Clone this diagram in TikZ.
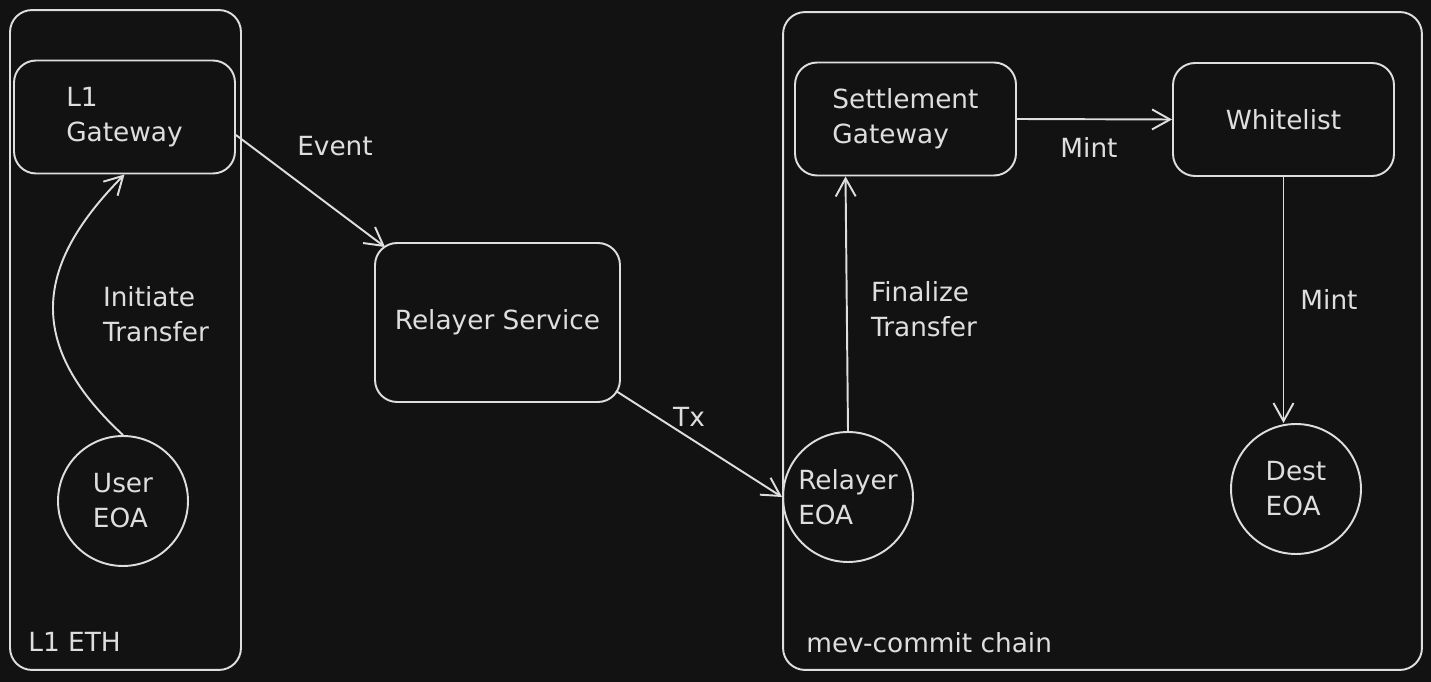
\documentclass[tikz,border=0pt]{standalone}
\usepackage{fontspec}
\setmainfont{DejaVu Sans}
\usetikzlibrary{arrows.meta,positioning}
\definecolor{canvas}{HTML}{121212}
\definecolor{ink}{HTML}{DEDEDE}

\begin{document}
\begin{tikzpicture}[x=0.02cm, y=-0.02cm]
\tikzset{
    box/.style={rectangle, draw=ink, rounded corners=0.44cm, line width=1.1pt, minimum width=4.42cm, minimum height=2.26cm, align=left, text=ink, font=\fontsize{15}{20}\selectfont},
    eoa/.style={circle, draw=ink, line width=1.1pt, minimum size=2.6cm, inner sep=0pt, align=left, text=ink, font=\fontsize{15}{20}\selectfont},
    frame/.style={rectangle, draw=ink, line width=1.1pt, rounded corners=0.44cm, inner sep=0pt},
    lbl/.style={text=ink, align=left, inner sep=0pt, font=\fontsize{15}{20}\selectfont},
    arr/.style={draw=ink, line width=1.1pt, -{Straight Barb[length=0.36cm, width=0.4cm]}}
}

  \fill[canvas] (0,0) rectangle (1431,682);

  % chains
  \node[frame, minimum width=4.62cm, minimum height=13.2cm] (l1eth) at (125.5,340) {};
  \node[frame, minimum width=12.78cm, minimum height=13.16cm] (mev) at (1102.5,341) {};
  \node[lbl, anchor=west] (l1lbl) at (28,642) {L1 ETH};
  \node[lbl, anchor=west] (mevlbl) at (806,643) {mev-commit chain};

  \node[box] (l1gw) at (124.5,117) {L1\\Gateway};
  \node[eoa] (usereoa) at (123,501) {User\\EOA};
  \node[box, minimum width=4.9cm, minimum height=3.18cm] (relay) at (497.5,322.5) {Relayer Service};
  \node[box] (setgw) at (905.5,119) {Settlement\\Gateway};
  \node[box] (wlist) at (1283.5,119.5) {Whitelist};
  \node[eoa] (releoa) at (848,497) {Relayer\\EOA};
  \node[eoa] (desteoa) at (1296,489) {Dest\\EOA};

  \draw[arr] (usereoa.north) .. controls (20,340) and (40,260) .. (l1gw.south);
  \draw[arr] ([yshift=-0.36cm]l1gw.east) -- ([shift={(0.22cm,-0.1cm)}]relay.north west);
  \draw[arr] ([shift={(-0.1cm,0.24cm)}]relay.south east) -- (releoa.west);
  \draw[arr] (releoa.north) -- ([xshift=-1.2cm]setgw.south);
  \draw[arr] (setgw.east) -- (wlist.west);
  \draw[arr] (wlist.south) -- (wlist.south |- desteoa.north);

  \node[lbl] (initlbl) at (156,314) {Initiate\\Transfer};
  \node[lbl] (evlbl) at (335,146) {Event};
  \node[lbl] (txlbl) at (689,417) {Tx};
  \node[lbl] (finlbl) at (924,309) {Finalize\\Transfer};
  \node[lbl] (mintlbl) at (1089,147) {Mint};
  \node[lbl] (mintlbl2) at (1329,299) {Mint};
\end{tikzpicture}
\end{document}
